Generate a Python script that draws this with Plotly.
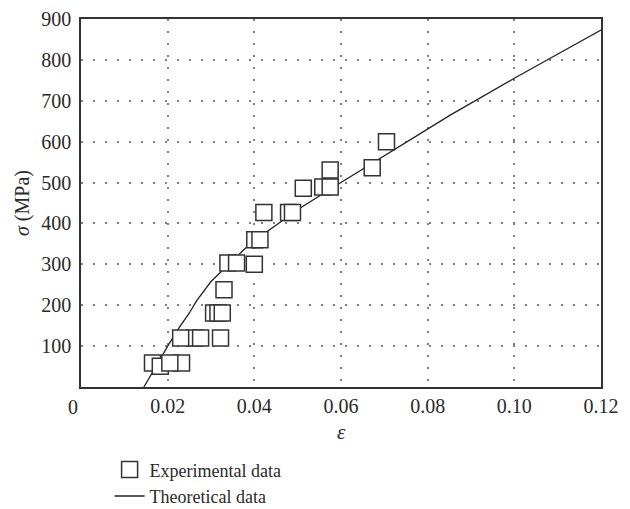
import plotly.graph_objects as go

# Theoretical curve
theo_x = [0.0145, 0.0165, 0.0183, 0.0200, 0.0225, 0.0250, 0.0267, 0.0300, 0.0340,
          0.0380, 0.0432, 0.0505, 0.0600, 0.0672, 0.0759, 0.0852, 0.1000, 0.1100, 0.1200]
theo_y = [0, 35, 68, 100, 143, 181, 211, 258, 300,
          340, 382, 437, 500, 547, 604, 665, 755, 815, 873]

# Experimental data (drawing order matters: white-filled squares overlap)
exp_x = [0.0232, 0.0165, 0.0183, 0.0205, 0.0262, 0.0230, 0.0276, 0.0322,
         0.0306, 0.0316, 0.0326, 0.0330, 0.0339, 0.0359, 0.0400, 0.0401,
         0.0413, 0.0422, 0.0479, 0.0488, 0.0513, 0.0558, 0.0575, 0.0575,
         0.0672, 0.0705]
exp_y = [59, 59, 51, 59, 120, 120, 120, 120,
         181, 181, 181, 238, 303, 303, 300, 360,
         360, 427, 427, 427, 486, 489, 489, 531,
         536, 600]

x_tick_vals = [0, 0.02, 0.04, 0.06, 0.08, 0.10, 0.12]
x_tick_text = ["0", "0.02", "0.04", "0.06", "0.08", "0.10", "0.12"]
y_tick_vals = [100, 200, 300, 400, 500, 600, 700, 800, 900]
y_tick_text = ["100", "200", "300", "400", "500", "600", "700", "800", "900"]

FONT = "Liberation Serif"
INK = "#2a2a2a"
TICK_SIZE = 20

fig = go.Figure()
fig.add_trace(go.Scatter(
    x=theo_x, y=theo_y, mode="lines", name="Theoretical data",
    line=dict(color="#222222", width=1.3),
))
fig.add_trace(go.Scatter(
    x=exp_x, y=exp_y, mode="markers", name="Experimental data",
    marker=dict(symbol="square", size=16, color="white",
                line=dict(color="#333333", width=1.5)),
))

grid_common = dict(showgrid=True, gridcolor="#808080", gridwidth=1.5,
                   griddash="1.5px,10.5px", zeroline=False,
                   showline=True, linecolor="#333333", linewidth=1.5,
                   mirror=True, ticks="",
                   tickfont=dict(family=FONT, size=TICK_SIZE, color=INK))

# "0" label sits left of the axis corner in the reference -> annotation
x_text_axis = [""] + x_tick_text[1:]

fig.update_xaxes(range=[0, 0.12], tickvals=x_tick_vals, ticktext=x_text_axis,
                 ticklabelstandoff=0,
                 **grid_common)
fig.update_yaxes(range=[0, 900], tickvals=y_tick_vals, ticktext=y_tick_text,
                 ticklabelstandoff=4,
                 title=dict(text="<i>σ</i> (MPa)", font=dict(family=FONT, size=20, color=INK),
                            standoff=6),
                 **grid_common)

fig.add_annotation(x=x_tick_vals[0], y=0, xref="x", yref="y", text=x_tick_text[0],
                   showarrow=False, xanchor="center", yanchor="top",
                   xshift=-8, yshift=-7,
                   font=dict(family=FONT, size=TICK_SIZE, color=INK))
# x-axis title as annotation for exact placement
fig.add_annotation(x=0.5, y=-0.122, xref="paper", yref="paper", text="<i>ε</i>",
                   showarrow=False, xanchor="center", yanchor="middle",
                   font=dict(family=FONT, size=21, color=INK))

fig.update_layout(
    width=630, height=509,
    margin=dict(l=81, r=29, t=19, b=122, autoexpand=False),
    plot_bgcolor="white", paper_bgcolor="white",
    font=dict(family=FONT, size=18, color=INK),
    showlegend=True,
    legend=dict(x=0.055, y=-0.175, xanchor="left", yanchor="top",
                traceorder="reversed", itemwidth=30,
                font=dict(family=FONT, size=18, color=INK),
                bgcolor="rgba(0,0,0,0)", tracegroupgap=0),
)

fig.write_html("out.html")
